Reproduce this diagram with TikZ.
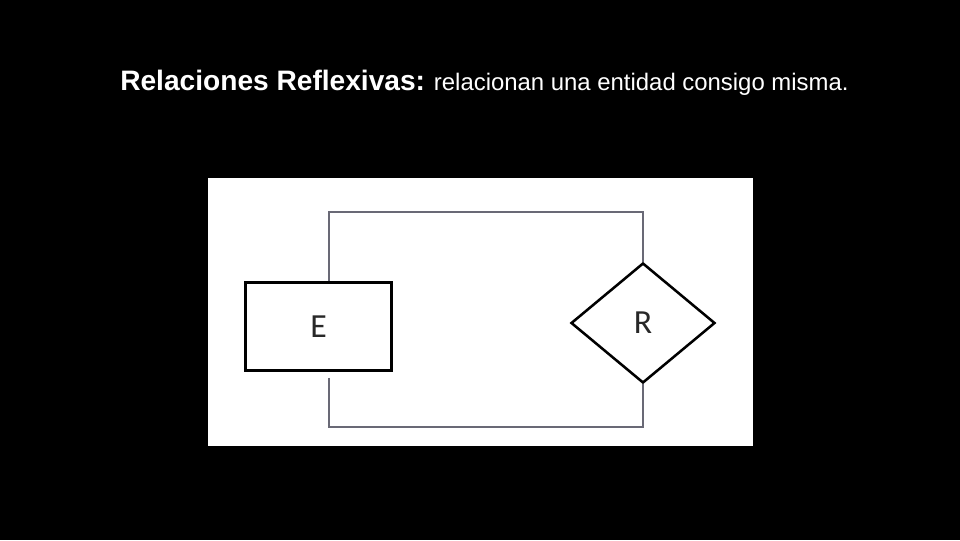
\documentclass[tikz,border=0pt]{standalone}
\usepackage{fontspec}
\setmainfont{Liberation Sans}
\newfontfamily\boxfont{Carlito}
\usetikzlibrary{shapes.geometric}
\definecolor{linkgray}{RGB}{105,105,118}
\definecolor{labelgray}{RGB}{40,40,40}
\begin{document}
\begin{tikzpicture}[x=0.025cm, y=-0.025cm,
  entity/.style={draw=black, line width=2pt, fill=white, minimum width=3.65cm, minimum height=2.2cm, inner sep=0pt, font=\boxfont\fontsize{24}{24}\selectfont, text=labelgray},
  relation/.style={diamond, draw=black, line width=1.8pt, fill=white, minimum width=3.6cm, minimum height=3cm, inner sep=0pt, font=\boxfont\fontsize{24}{24}\selectfont, text=labelgray},
  link/.style={draw=linkgray, line width=1.6pt}]

  % Background
  \fill[black] (0,0) rectangle (960,540);
  \fill[white] (208,178) rectangle (753,446);

  % Title
  \node[anchor=base west, text=white, inner sep=0pt, font=\fontsize{17}{24}\selectfont] (title) at (120,90)
    {{\fontsize{20}{24}\selectfont\bfseries Relaciones Reflexivas:} relacionan una entidad consigo misma.};

  % Entity and relation
  \node[entity] (E) at (318.5,326.5) {E};
  \node[relation] (R) at (643,323) {R};

  % Links
  \draw[link] ([xshift=0.26cm]E.north) -- ++(0,-69) -| (R.north);
  \draw[link] ([xshift=0.26cm, yshift=-0.15cm]E.south) -- ++(0,49) -| (R.south);

\end{tikzpicture}
\end{document}
